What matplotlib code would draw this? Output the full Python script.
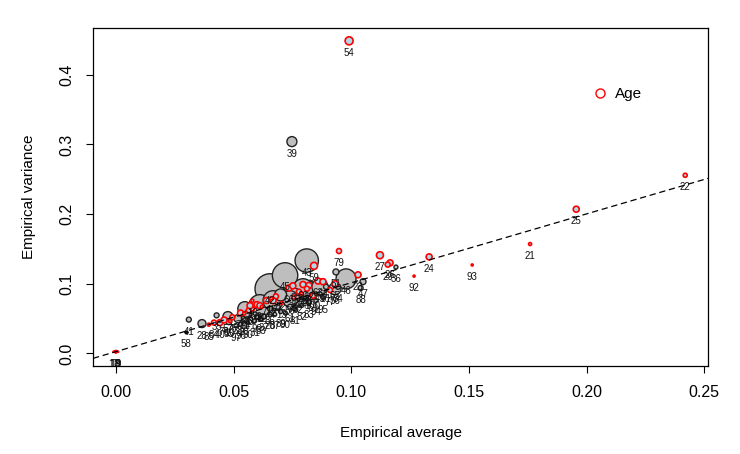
import numpy as np
import matplotlib
matplotlib.use("Agg")
import matplotlib.pyplot as plt
from matplotlib.lines import Line2D

plt.rcParams['font.family'] = ['Liberation Sans', 'DejaVu Sans']

# grey bubbles (black outline): label, empirical average, empirical variance, bubble weight
grey_labels = ["39", "36", "47", "88", "41", "28", "55", "35", "38",
               "43", "45", "42", "48", "44", "46", "49", "53", "50", "56", "57", "51", "52",
               "1", "2", "3", "4",
               "86", "61", "34", "91", "32", "30", "31", "33", "37", "87", "89", "90",
               "81", "82", "83", "94", "95", "96", "97", "98", "99", "20", "100"]
grey_avg = [0.0748, 0.1190, 0.1050, 0.1040, 0.0310, 0.0366, 0.0480, 0.0428, 0.0519,
            0.0811, 0.0719, 0.0655, 0.0795, 0.0612, 0.0978, 0.0867, 0.0548, 0.0740, 0.0931, 0.0476, 0.0935, 0.0700,
            0.0816, 0.0668, 0.0753, 0.0560,
            0.0655, 0.0740, 0.0944, 0.0893, 0.0774, 0.0560, 0.0590, 0.0615, 0.0630, 0.0675, 0.0700, 0.0720,
            0.0760, 0.0790, 0.0820, 0.0850, 0.0880, 0.0530, 0.0510, 0.0545, 0.0600, 0.0655, 0.0835]
grey_var = [0.3040, 0.1240, 0.1030, 0.0940, 0.0486, 0.0429, 0.0457, 0.0547, 0.0500,
            0.1333, 0.1120, 0.0929, 0.0929, 0.0686, 0.1070, 0.0957, 0.0643, 0.0786, 0.0929, 0.0529, 0.1170, 0.0840,
            0.0900, 0.0757, 0.0829, 0.0560,
            0.0643, 0.0671, 0.0957, 0.0957, 0.0800, 0.0440, 0.0470, 0.0490, 0.0530, 0.0560, 0.0600, 0.0580,
            0.0640, 0.0690, 0.0730, 0.0760, 0.0800, 0.0420, 0.0400, 0.0480, 0.0520, 0.0560, 0.0850]
grey_weight = [5, 2, 3, 2.5, 2.5, 4, 3, 2.5, 4,
               11.7, 12.7, 15, 10, 11, 10, 8, 7, 8, 6, 5, 3, 6,
               10, 10, 8, 4,
               2.5, 2.5, 2.5, 2.5, 2.5, 2, 2, 2, 2.5, 2, 2, 2,
               2, 2, 2.5, 2, 2, 2, 2, 2, 2, 2, 2]

# age group (red outline)
age_labels = ["54", "22", "25", "21", "93", "92", "24", "27", "26", "29", "79", "23",
              "85", "84", "40", "17", "18", "19", "9", "0",
              "59", "60", "62", "63", "64", "65", "66", "67", "68", "69", "70", "71",
              "72", "73", "74", "75", "76", "77", "78", "80",
              "5", "6", "7", "8",
              "10", "11", "12", "13", "14", "15", "16"]
age_avg = [0.0991, 0.2419, 0.1956, 0.1760, 0.1514, 0.1267, 0.1331, 0.1122, 0.1165, 0.1155, 0.0948, 0.1029,
           0.0395, 0.0417, 0.0442, -0.0010, -0.0004, 0.0, 0.0004, 0.0010,
           0.0842, 0.0795, 0.0820, 0.0859, 0.0880, 0.0931, 0.0736, 0.0778, 0.0812, 0.0838, 0.0680, 0.0640,
           0.0600, 0.0565, 0.0530, 0.0495, 0.0460, 0.0910, 0.0755, 0.0580,
           0.0570, 0.0612, 0.0668, 0.0752,
           0.0485, 0.0545, 0.0620, 0.0705, 0.0790, 0.0660, 0.0580]
age_var = [0.4486, 0.2557, 0.2070, 0.1570, 0.1270, 0.1110, 0.1386, 0.1410, 0.1300, 0.1275, 0.1470, 0.1129,
           0.0414, 0.0443, 0.0443, 0.0025, 0.0025, 0.0025, 0.0025, 0.0025,
           0.1257, 0.0990, 0.0975, 0.1040, 0.1030, 0.1000, 0.0940, 0.0886, 0.0929, 0.0829, 0.0820, 0.0760,
           0.0700, 0.0620, 0.0580, 0.0520, 0.0480, 0.0910, 0.0810, 0.0640,
           0.0686, 0.0686, 0.0757, 0.0971,
           0.0465, 0.0570, 0.0670, 0.0725, 0.0860, 0.0790, 0.0757]
age_weight = [4, 2, 3, 1.5, 1, 1, 3, 3.5, 3, 2.5, 2.5, 3,
              1.5, 2.5, 3, 0.5, 0.5, 1.3, 0.5, 0.5,
              3.5, 3, 3, 3, 3, 3, 3, 2.5, 2.5, 2.5, 2.5, 3,
              3, 2.5, 3, 2.5, 3, 2.5, 2, 2,
              3, 3, 3, 3,
              1.5, 1.5, 1.5, 1.5, 1.5, 1.5, 1.5]

# single dark point
dark_labels = ["58"]
dark_avg = [0.0298]
dark_var = [0.0314]
dark_weight = [1.5]

# fitted line
fit_intercept = 0.0026
fit_slope = 0.9885


def to_s(w):
    # weight ~ radius in px -> marker area in pt^2
    return (2 * np.asarray(w) * 0.72) ** 2


fig = plt.figure(figsize=(7.4, 4.54), dpi=100)
ax = fig.add_axes([0.1257, 0.1938, 0.8311, 0.7445])

order = np.argsort(grey_weight)[::-1]
ax.scatter(np.array(grey_avg)[order], np.array(grey_var)[order], s=to_s(np.array(grey_weight)[order]),
           facecolor='#bebebe', edgecolor='#222222', linewidths=1.0, zorder=2)
ax.scatter(dark_avg, dark_var, s=to_s(dark_weight), facecolor='black', edgecolor='black',
           linewidths=0.8, zorder=3)
ax.scatter(age_avg, age_var, s=to_s(age_weight), facecolor='#add8e6', edgecolor='red',
           linewidths=1.2, zorder=3)

for labs, xs, ys in [(grey_labels, grey_avg, grey_var), (age_labels, age_avg, age_var),
                     (dark_labels, dark_avg, dark_var)]:
    for lab, x, y in zip(labs, xs, ys):
        t = ax.annotate(lab, (x, y), xytext=(0, -8.6), textcoords='offset points',
                        ha='center', va='center', fontsize=7, color='#111111', zorder=4)
        t.set_clip_path(ax.patch)

ax.axline((0, fit_intercept), slope=fit_slope, color='black', lw=0.9,
          ls=(0, (5, 3)), zorder=5)

ax.set_xlim(-0.0097, 0.2516)
ax.set_ylim(-0.018, 0.467)
ax.set_xticks([0, 0.05, 0.10, 0.15, 0.20, 0.25])
ax.set_xticklabels(["0.00", "0.05", "0.10", "0.15", "0.20", "0.25"])
ax.set_yticks([0, 0.1, 0.2, 0.3, 0.4])
ax.set_yticklabels(["0.0", "0.1", "0.2", "0.3", "0.4"], rotation=90, va='center')
ax.tick_params(length=5, width=0.8, labelsize=11.5, pad=8.5)
for sp in ax.spines.values():
    sp.set_linewidth(0.9)

ax.set_xlabel("Empirical average", fontsize=11)
ax.set_ylabel("Empirical variance", fontsize=11)
ax.xaxis.set_label_coords(0.5, -0.178)
ax.yaxis.set_label_coords(-0.093, 0.5)

handle = Line2D([], [], marker='o', ls='', mfc='none', mec='red', ms=6.5, mew=1.0)
ax.legend([handle], ["Age"], loc='center left', bbox_to_anchor=(0.812, 0.805),
          frameon=False, fontsize=11, borderpad=0, borderaxespad=0,
          handlelength=1, handletextpad=0.45)

fig.savefig("out.png", dpi=100)
